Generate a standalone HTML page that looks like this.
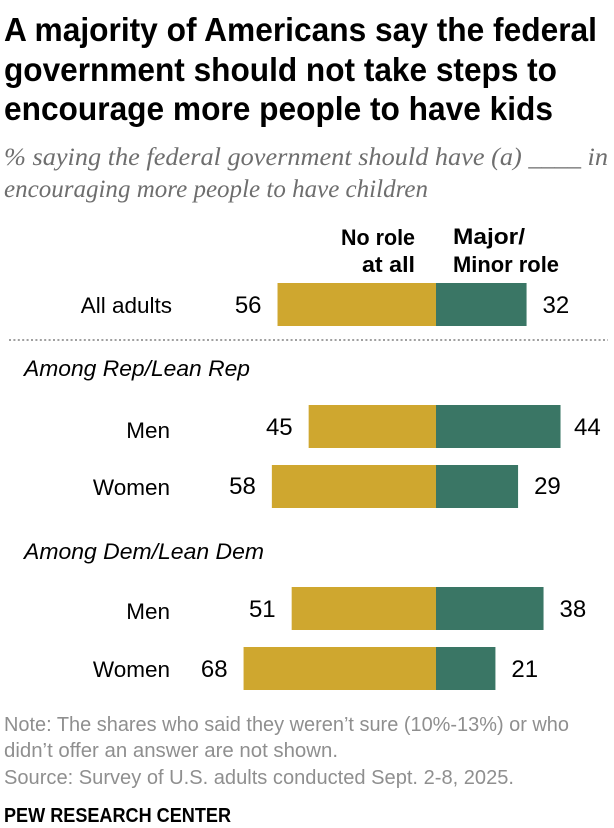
<!DOCTYPE html>
<html lang="en">
<head>
<meta charset="utf-8">
<title>Pew chart</title>
<style>
html,body{margin:0;padding:0;background:#fff;width:614px;height:828px;overflow:hidden}
svg{display:block}
text{font-family:"Liberation Sans",sans-serif}
.title{font-size:33px;font-weight:bold;fill:#000}
.sub{font-family:"Liberation Serif",serif;font-style:italic;font-size:25px;fill:#6e6e6e}
.head{font-size:22px;font-weight:bold;fill:#000}
.cat{font-size:22.5px;fill:#000}
.grp{font-size:22px;font-style:italic;fill:#000}
.val{font-size:24px;fill:#000}
.note{font-size:20px;fill:#8f8f8f}
.brand{font-size:20px;font-weight:bold;fill:#000}
</style>
</head>
<body>
<svg id="chart" xmlns="http://www.w3.org/2000/svg" width="614" height="828" viewBox="0 0 614 828">
  <g>
    <text class="title" x="4" y="41" textLength="593" lengthAdjust="spacingAndGlyphs">A majority of Americans say the federal</text>
    <text class="title" x="4" y="81" textLength="553" lengthAdjust="spacingAndGlyphs">government should not take steps to</text>
    <text class="title" x="4" y="120" textLength="549" lengthAdjust="spacingAndGlyphs">encourage more people to have kids</text>
  </g>
  <g>
    <text class="sub" x="4" y="165" textLength="604" lengthAdjust="spacingAndGlyphs">% saying the federal government should have (a) ____ in</text>
    <text class="sub" x="4" y="197" textLength="424" lengthAdjust="spacingAndGlyphs">encouraging more people to have children</text>
  </g>
  <g>
    <text class="head" x="415" y="245" text-anchor="end" textLength="74" lengthAdjust="spacingAndGlyphs">No role</text>
    <text class="head" x="415" y="272" text-anchor="end" textLength="53" lengthAdjust="spacingAndGlyphs">at all</text>
  </g>
  <g>
    <text class="head" x="453" y="244" textLength="72" lengthAdjust="spacingAndGlyphs">Major/</text>
    <text class="head" x="453" y="272" textLength="106" lengthAdjust="spacingAndGlyphs">Minor role</text>
  </g>
  <line x1="9" x2="608" y1="340" y2="340" stroke="#a0a0a0" stroke-width="2" stroke-dasharray="2 2.4"/>
  <text class="grp" x="24" y="376" textLength="226" lengthAdjust="spacingAndGlyphs">Among Rep/Lean Rep</text>
  <text class="grp" x="24" y="559" textLength="240" lengthAdjust="spacingAndGlyphs">Among Dem/Lean Dem</text>
  <g id="bars"></g>
  <g>
    <text class="note" x="4" y="731" textLength="565" lengthAdjust="spacingAndGlyphs">Note: The shares who said they weren’t sure (10%-13%) or who</text>
    <text class="note" x="4" y="757" textLength="334" lengthAdjust="spacingAndGlyphs">didn’t offer an answer are not shown.</text>
    <text class="note" x="4" y="784" textLength="510" lengthAdjust="spacingAndGlyphs">Source: Survey of U.S. adults conducted Sept. 2-8, 2025.</text>
  </g>
  <text class="brand" x="4" y="822" textLength="227" lengthAdjust="spacingAndGlyphs">PEW RESEARCH CENTER</text>
</svg>
<script>
var categories = ['All adults', 'Men', 'Women', 'Men', 'Women'];
var noRole = [56, 45, 58, 51, 68];
var someRole = [32, 44, 29, 38, 21];

var NS = 'http://www.w3.org/2000/svg';
var rowTops = [283, 405, 465, 587, 647];
var labelEnds = [172, 170, 170, 170, 170];
var labelBases = [313, 438, 495, 619, 677];
var valueBases = [313, 435, 494, 617, 677];
var rightGaps = [16, 13.5, 16, 16, 16];
var ZERO = 436;
var UNIT = 2.83;
var BAR_H = 43;
var holder = document.getElementById('bars');

function xScale(v) { return ZERO + v * UNIT; }

function addRect(x, y, w, fill) {
  var r = document.createElementNS(NS, 'rect');
  r.setAttribute('x', x);
  r.setAttribute('y', y);
  r.setAttribute('width', w);
  r.setAttribute('height', BAR_H);
  r.setAttribute('fill', fill);
  return r;
}

function addText(cls, x, y, anchor, str) {
  var t = document.createElementNS(NS, 'text');
  t.setAttribute('class', cls);
  t.setAttribute('x', x);
  t.setAttribute('y', y);
  t.setAttribute('text-anchor', anchor);
  t.textContent = str;
  return t;
}

categories.forEach(function (cat, i) {
  var top = rowTops[i];

  var left = addRect(xScale(-noRole[i]), top, noRole[i] * UNIT, '#cfa72f');
  
  
  holder.appendChild(left);

  var right = addRect(ZERO, top, someRole[i] * UNIT, '#3a7665');
  
  
  holder.appendChild(right);

  var label = addText('cat', labelEnds[i], labelBases[i], 'end', cat);
  
  
  holder.appendChild(label);

  var leftVal = addText('val', xScale(-noRole[i]) - 16, valueBases[i], 'end', String(noRole[i]));
  
  
  holder.appendChild(leftVal);

  var rightVal = addText('val', xScale(someRole[i]) + rightGaps[i], valueBases[i], 'start', String(someRole[i]));
  
  
  holder.appendChild(rightVal);
});
</script>
</body>
</html>
